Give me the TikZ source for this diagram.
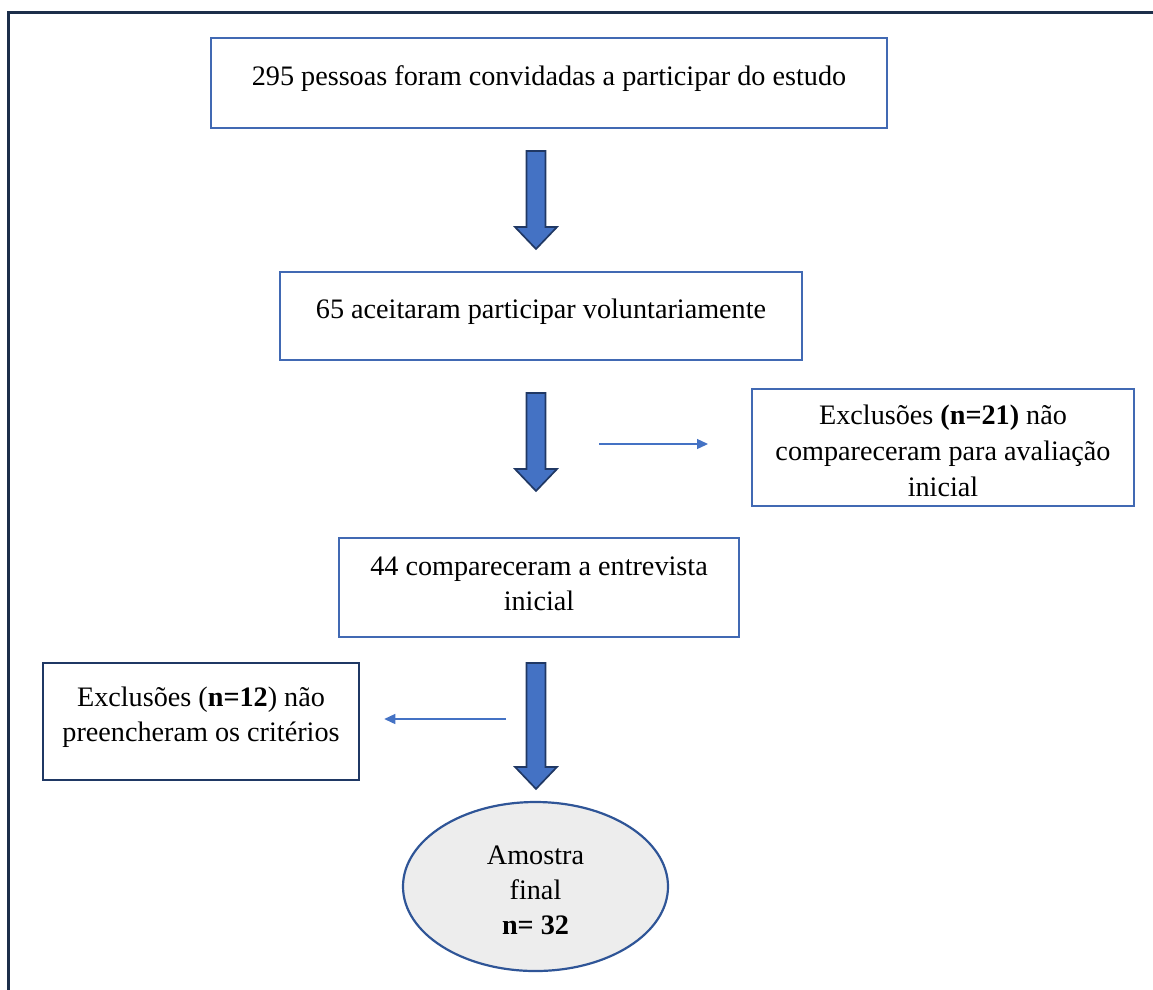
\documentclass[tikz,border=0pt]{standalone}
\usepackage{fontspec}
\setmainfont{Liberation Serif}
\usetikzlibrary{calc,arrows.meta,shapes.geometric}
\definecolor{framenavy}{HTML}{1C2E4A}
\definecolor{boxblue}{HTML}{4169B3}
\definecolor{boxnavy}{HTML}{1F3864}
\definecolor{arrowblue}{HTML}{4472C4}
\definecolor{arrowedge}{HTML}{203864}
\definecolor{ovalfill}{HTML}{EDEDED}
\definecolor{ovaledge}{HTML}{2F5597}

\tikzset{
  box/.style={draw=boxblue, line width=2pt, inner sep=0pt},
  txt/.style={font=\fontsize{28.2pt}{35pt}\selectfont, align=center, inner sep=0pt, anchor=base},
  thinarrow/.style={draw=arrowblue, line width=1.3pt, -{Triangle[length=11pt,width=10pt]}},
  fatarrow/.style={fill=arrowblue, draw=arrowedge, line width=1.7pt,
    to path={let \p1=(\tikztostart), \p2=(\tikztotarget) in
      (\x1-9.5pt,\y1) -- (\x1+9.5pt,\y1) -- (\x1+9.5pt,\y2+22pt) -- (\x1+21pt,\y2+22pt)
      -- (\x1,\y2) -- (\x1-21pt,\y2+22pt) -- (\x1-9.5pt,\y2+22pt) -- cycle}}
}

\begin{document}
\begin{tikzpicture}[x=1pt,y=-1pt]
  \useasboundingbox (0,0) rectangle (1153,989);

  % outer frame
  \draw[framenavy, line width=3pt] (8,1010) -- (8,12) -- (1170,12);

  \node[box, minimum width=676pt, minimum height=90pt] (invite) at (549,83) {};
  \node[txt] (invite-t) at (549,85) {295 pessoas foram convidadas a participar do estudo};

  \node[box, minimum width=522pt, minimum height=88pt] (accept) at (541,316) {};
  \node[txt] (accept-t) at (541,318) {65 aceitaram participar voluntariamente};

  % multi-line text: base is the last line
  \node[box, minimum width=382pt, minimum height=117pt] (noshow) at (943,447.5) {};
  \node[txt, font=\fontsize{28.2pt}{36pt}\selectfont] (noshow-t) at (943,496) {Exclusões \textbf{(n=21)} não\\compareceram para avaliação\\inicial};

  \node[box, minimum width=400pt, minimum height=99pt] (attend) at (539,587.5) {};
  \node[txt] (attend-t) at (539,610) {44 compareceram a entrevista\\inicial};

  \node[box, draw=boxnavy, line width=2.5pt, minimum width=316pt, minimum height=117pt] (unfit) at (201,721.5) {};
  \node[txt] (unfit-t) at (201,741) {Exclusões (\textbf{n=12}) não\\preencheram os critérios};

  \node[ellipse, draw=ovaledge, fill=ovalfill, line width=2.2pt, minimum width=265pt, minimum height=169pt] (final) at (535.5,886.5) {};
  \node[txt] (final-t) at (535.5,934) {Amostra\\final\\\textbf{n= 32}};

  \coordinate (spine) at (536,0);
  \coordinate (tail1) at (599,444);
  \coordinate (tail2) at (506,719);

  \draw[fatarrow] ($(spine |- invite.south)+(0,22)$) to ($(spine |- accept.north)+(0,-22)$);
  \draw[fatarrow] ($(spine |- accept.south)+(0,32)$) to ($(spine |- attend.north)+(0,-46)$);
  \draw[fatarrow] ($(spine |- attend.south)+(0,25)$) to ($(spine |- final.north)+(0,-12)$);

  \draw[thinarrow, shorten >=43pt] (tail1) -- (tail1 -| noshow.west);
  \draw[thinarrow, shorten >=24pt] (tail2) -- (tail2 -| unfit.east);
\end{tikzpicture}
\end{document}
